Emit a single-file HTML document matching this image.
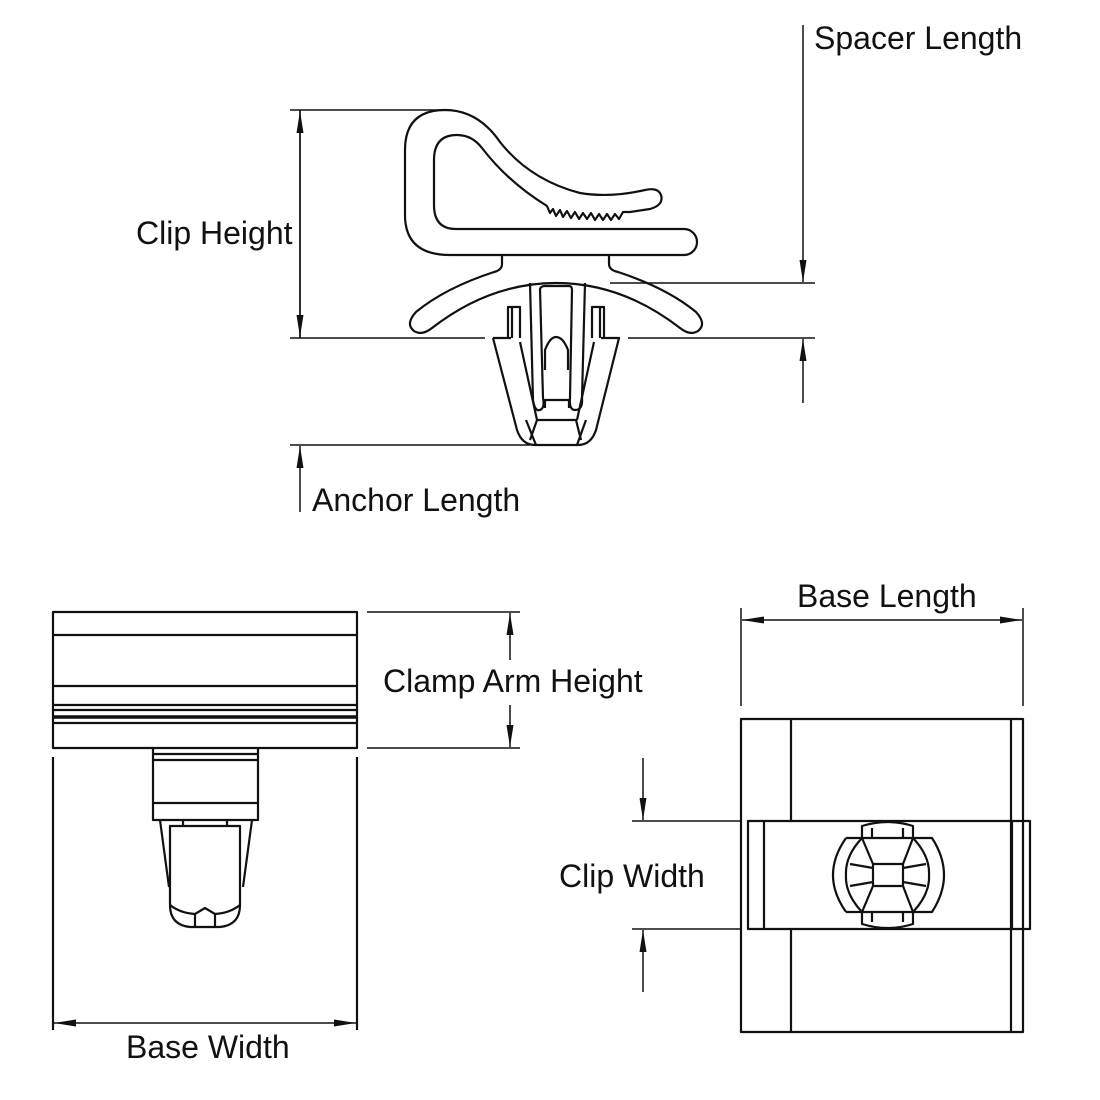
<!DOCTYPE html>
<html><head><meta charset="utf-8"><style>
html,body{margin:0;padding:0;background:#fff}
svg{display:block}
text{font-family:"Liberation Sans",Arial,sans-serif;font-size:32px;fill:#111}
</style></head><body>
<svg width="1100" height="1100" viewBox="0 0 1100 1100" xmlns="http://www.w3.org/2000/svg">
<defs>
<marker id="a" viewBox="0 0 22 8" refX="22" refY="4" markerWidth="22" markerHeight="8" markerUnits="userSpaceOnUse" orient="auto"><path d="M0,0.5 L22,4 L0,7.5 Z" fill="#111"/></marker>
</defs>
<g fill="none" stroke="#111" stroke-width="2.2" stroke-linejoin="round">
<path d="M450,255 L684,255 A13,13 0 0 0 684,229 L456,229 Q434,229 434,205 L434,160 Q434,135 457,135 Q472,135 482,148 Q508,182 547,206 L550,213 L553,209 L556,216 L560,210 L563,217 L567,211 L571,218 L575,212 L579,219 L583,213 L587,219 L591,213 L595,220 L599,214 L603,220 L607,214 L611,220 L615,214 L619,219 L623,212 L630,212 L650,209 Q664,205 661,195 Q658,187 645,190 Q610,198 580,193 Q530,180 500,142 Q478,110 445,110 Q405,110 405,150 L405,215 Q405,255 450,255"/>
<path d="M502,255 L502,264 Q502,270 494,272 Q445,288 416,312 Q405,324 414,331 Q422,336 432,328 Q490,283 556,283 Q622,283 680,328 Q690,336 698,331 Q707,324 696,312 Q667,288 618,272 Q609,270 609,264 L609,255"/>
<path d="M493,338 L517,430 Q522,445 535,445 L578,445 Q591,445 596,430 L619,338 L601,338"/>
<path d="M493,338 L511,338"/>
<path d="M508,338 L508,307 L520,307 L520,338 M512,307 L512,338"/>
<path d="M592,338 L592,307 L604,307 L604,338 M600,307 L600,338"/>
<path d="M530,283 L533,400 Q535,412 540,410 Q545,408 543,398 L540,289 Q541,286 545,286 L569,286 Q572,286 572,290 L570,398 Q569,410 575,410 Q583,410 582,398 L585,283"/>
<path d="M545,408 L545,400 L569,400 L569,408"/>
<path d="M545,370 L545,350 Q550,337 556,337 Q563,337 568,350 L568,370"/>
<path d="M520,342 L537,420 L530,440 M536,420 L576,420 L581,440 M577,420 L594,342"/>
<path d="M526,420 L536,445 M586,420 L577,445"/>
<rect x="53" y="612" width="304" height="136"/>
<path d="M53,635 H357 M53,686 H357 M53,705 H357 M53,710 H357 M53,723 H357"/>
<path d="M53,717 H357" stroke-width="3.5"/>
<path d="M153,748 V820 H258 V748 M153,754 H258 M153,760 H258 M153,803 H258"/>
<path d="M160,820 L169,887 M252,820 L243,887 M170,826 H240 V905 Q240,925 220,927 L190,927 Q170,925 170,905 Z M183,820 V826 M227,820 V826"/>
<path d="M170,905 Q180,913 195,914 L205,908 L215,914 Q230,913 240,905 M195,914 L195,927 M215,914 L215,927"/>
<path d="M53,757 V1030 M357,757 V1030"/>
<rect x="741" y="719" width="282" height="313"/>
<path d="M791,719 V821 M791,929 V1032 M1011,719 V1032"/>
<rect x="748" y="821" width="282" height="108"/>
<path d="M764,821 V929 M1012,821 V929"/>
<path d="M846,838 Q820,875 846,912 M846,838 H932 Q956,875 932,912 H846"/>
<path d="M862,838 L873,864 H903 L913,838 M862,912 L873,886 H903 L913,912 M873,864 V886 M903,864 V886"/>
<path d="M862,838 Q845,856 846,875 Q845,894 862,912 M913,838 Q930,856 929,875 Q930,894 913,912"/>
<path d="M850,864 L873,868 M850,886 L873,882 M926,864 L903,868 M926,886 L903,882"/>
<path d="M862,838 V826 Q888,818 913,826 V838 M862,912 V924 Q888,932 913,924 V912 M872,828 V838 M903,828 V838 M872,912 V922 M903,912 V922"/>
<g stroke-width="1.5">
<path d="M290,110 H440 M290,338 H485 M628,338 H815 M610,283 H815 M290,445 H530"/>
<path d="M300,338 V111" marker-end="url(#a)"/>
<path d="M300,110 V337" marker-end="url(#a)"/>
<path d="M803,25 V282" marker-end="url(#a)"/>
<path d="M803,403 V339" marker-end="url(#a)"/>
<path d="M300,512 V446" marker-end="url(#a)"/>
<path d="M367,612 H520 M367,748 H520"/>
<path d="M510,660 V613" marker-end="url(#a)"/>
<path d="M510,705 V747" marker-end="url(#a)"/>
<path d="M205,1023 H54" marker-end="url(#a)"/>
<path d="M205,1023 H356" marker-end="url(#a)"/>
<path d="M741,608 V706 M1023,608 V706"/>
<path d="M880,620 H742" marker-end="url(#a)"/>
<path d="M880,620 H1022" marker-end="url(#a)"/>
<path d="M632,821 H740 M632,929 H740"/>
<path d="M643,758 V820" marker-end="url(#a)"/>
<path d="M643,992 V930" marker-end="url(#a)"/>
</g>
</g>
<text x="814" y="49">Spacer Length</text>
<text x="136" y="244">Clip Height</text>
<text x="312" y="511">Anchor Length</text>
<text x="383" y="692">Clamp Arm Height</text>
<text x="797" y="607">Base Length</text>
<text x="559" y="887">Clip Width</text>
<text x="126" y="1058">Base Width</text>
</svg>
</body></html>
